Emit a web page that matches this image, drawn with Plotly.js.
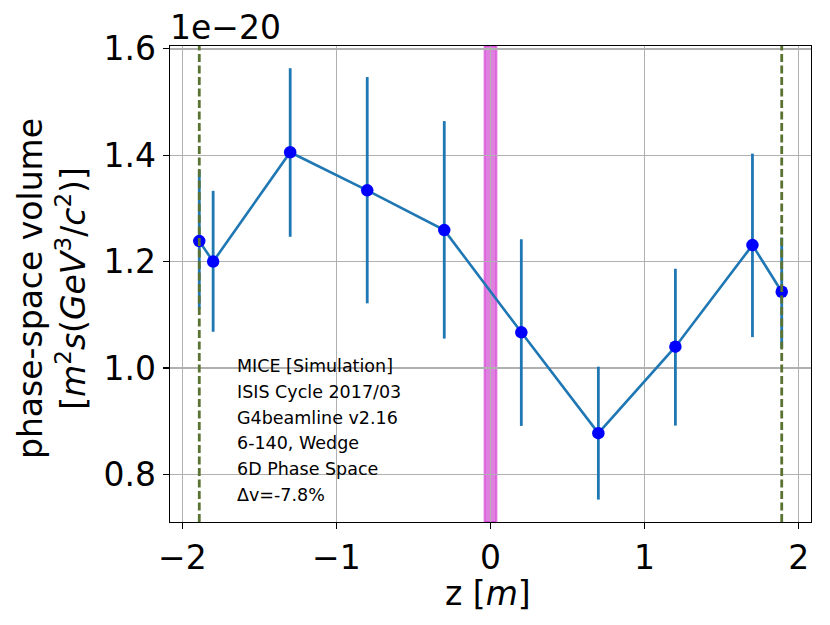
<!DOCTYPE html>
<html>
<head>
<meta charset="utf-8">
<script src="https://cdn.plot.ly/plotly-3.0.1.min.js"></script>
<style>html,body{margin:0;padding:0;background:#fff;}#plot{width:830px;height:625px;}</style>
</head>
<body>
<div id="plot"></div>
<script>
// Data (phase-space volume in units of 1e-20 m^2 s (GeV^3/c^2))
const zPositions = [-1.89, -1.8, -1.3, -0.8, -0.3, 0.2, 0.7, 1.2, 1.7, 1.89];
const volume     = [1.2385, 1.200, 1.4056, 1.334, 1.2592, 1.067, 0.8774, 1.040, 1.231, 1.1433];
const errPlus    = [0.133, 0.133, 0.158, 0.213, 0.205, 0.175, 0.125, 0.1465, 0.172, 0.102];
const errMinus   = [0.127, 0.132, 0.159, 0.2125, 0.204, 0.176, 0.125, 0.1484, 0.173, 0.106];
const stationZ   = [-1.89, 1.89];
const absorberZ  = [-0.039, 0.039];
const yTicks     = [0.8, 1.0, 1.2, 1.4, 1.6];
const xTicks     = [-2, -1, 0, 1, 2];
const infoLines  = ["MICE [Simulation]", "ISIS Cycle 2017/03", "G4beamline v2.16",
                    "6-140, Wedge", "6D Phase Space", "\u0394v=-7.8%"];
const xTitle = "z [<i>m</i>]";
const yTitle = "phase-space volume<br>[<i>m</i><sup>2</sup><i>s</i>(<i>GeV</i><sup>3</sup>/<i>c</i><sup>2</sup>)]";

const FONT = "DejaVu Sans, Liberation Sans, sans-serif";

const trace = {
  x: zPositions,
  y: volume,
  type: "scatter",
  mode: "lines+markers",
  line: {color: "#1f77b4", width: 2.6},
  marker: {color: "#0000ff", size: 12.5},
  error_y: {type: "data", symmetric: false, array: errPlus, arrayminus: errMinus,
            color: "#1f77b4", thickness: 2.8, width: 0},
  showlegend: false,
  hoverinfo: "x+y"
};

const shapes = [];
shapes.push({type: "rect", xref: "x", yref: "paper", x0: absorberZ[0], x1: absorberZ[1], y0: 0, y1: 1,
             fillcolor: "rgba(191,0,191,0.5)", line: {color: "rgba(200,0,200,0.4)", width: 2}, layer: "below"});
stationZ.forEach(z => shapes.push({type: "line", xref: "x", yref: "paper", x0: z, x1: z, y0: 0, y1: 1,
             line: {color: "#5a7332", width: 2.8, dash: "8px,3.5px"}, layer: "above"}));

const W = 830, H = 625;
const mL = 170, mR = 19, mT = 46, mB = 103;
const plotW = W - mL - mR, plotH = H - mT - mB;

const annotations = infoLines.map((t, i) => ({
  text: t, xref: "paper", yref: "paper",
  x: (235 - mL) / plotW, y: (H - mB - (366 + 25.8 * i)) / plotH,
  xanchor: "left", yanchor: "middle", showarrow: false,
  font: {family: FONT, size: 17.5, color: "#000"}
}));
annotations.push({
  text: "1e\u221220", xref: "paper", yref: "paper", x: 0, y: (H - mB - 28) / plotH,
  xanchor: "left", yanchor: "middle", showarrow: false, xshift: -2,
  font: {family: FONT, size: 33, color: "#000"}
});
// axis titles
annotations.push({
  text: xTitle, xref: "paper", yref: "paper", x: 0.5, y: (H - mB - 593) / plotH,
  xanchor: "center", yanchor: "middle", showarrow: false, xshift: -3,
  font: {family: FONT, size: 33, color: "#000"}
});
annotations.push({
  text: yTitle, xref: "paper", yref: "paper", x: (52 - mL) / plotW, y: 0.5,
  xanchor: "center", yanchor: "middle", showarrow: false, textangle: -90, yshift: -5,
  font: {family: FONT, size: 33, color: "#000"}
});

const layout = {
  width: W, height: H,
  margin: {l: mL, r: mR, t: mT, b: mB},
  paper_bgcolor: "#fff", plot_bgcolor: "#fff",
  font: {family: FONT, color: "#000"},
  xaxis: {
    range: [-2.08, 2.08], tickvals: xTicks, ticktext: xTicks.map(v => v < 0 ? "\u2212" + Math.abs(v) : String(v)),
    ticks: "outside", ticklen: 6, tickwidth: 1.2, tickcolor: "#000",
    showgrid: true, gridcolor: "#b0b0b0", gridwidth: 1.3, zeroline: false,
    showline: true, linecolor: "#000", linewidth: 1.3, mirror: true,
    tickfont: {family: FONT, size: 33, color: "#000"}
  },
  yaxis: {
    range: [0.7103, 1.6054], tickvals: yTicks, ticktext: yTicks.map(v => v.toFixed(1)),
    ticks: "outside", ticklen: 6, tickwidth: 1.2, tickcolor: "#000",
    showgrid: true, gridcolor: "#b0b0b0", gridwidth: 1.3, zeroline: false,
    showline: true, linecolor: "#000", linewidth: 1.3, mirror: true,
    tickfont: {family: FONT, size: 33, color: "#000"}
  },
  shapes: shapes,
  annotations: annotations
};

Plotly.newPlot("plot", [trace], layout, {displayModeBar: false, staticPlot: true});
</script>
</body>
</html>
